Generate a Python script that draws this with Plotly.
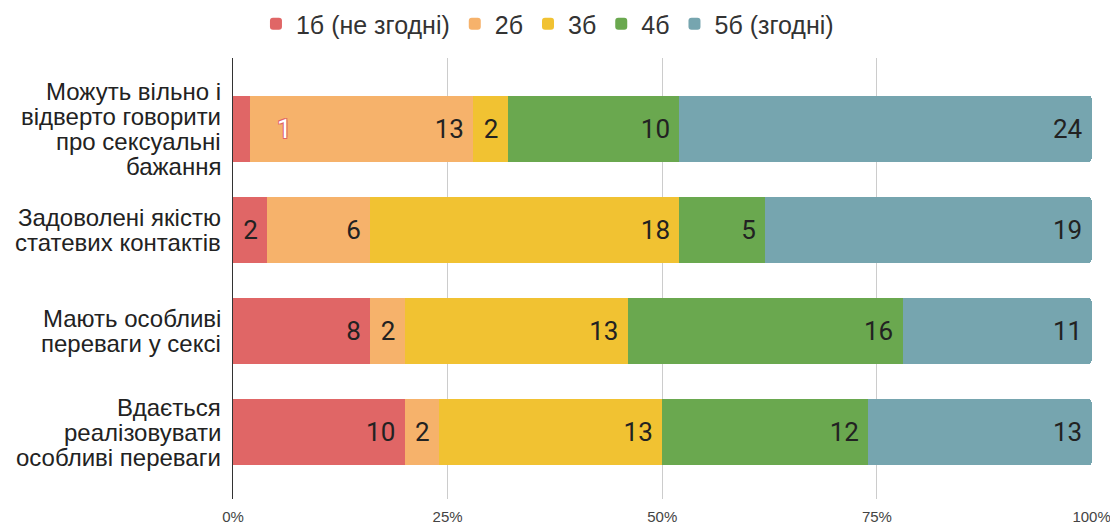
import plotly.graph_objects as go

categories = [
    "Можуть вільно і<br>відверто говорити<br>про сексуальні<br>бажання",
    "Задоволені якістю<br>статевих контактів",
    "Мають особливі<br>переваги у сексі",
    "Вдається<br>реалізовувати<br>особливі переваги",
]
series_names = ["1б (не згодні)", "2б", "3б", "4б", "5б (згодні)"]
s1 = [1, 2, 8, 10]
s2 = [13, 6, 2, 2]
s3 = [2, 18, 13, 13]
s4 = [10, 5, 16, 12]
s5 = [24, 19, 11, 13]
colors = ["#E06666", "#F6B26B", "#F1C232", "#6AA84F", "#76A5AF"]
x_ticks = [0, 25, 50, 75, 100]

series = [s1, s2, s3, s4, s5]
totals = [sum(v) for v in zip(*series)]

PAD = "\u00a0"
ROBOTO = "Roboto, Arial, sans-serif"
ARIAL = "Arial, 'Liberation Sans', sans-serif"
LINE_H = 25  # px between category label lines

# page body has an 8px margin; compensate so the chart lands where intended
W, H = 1118 - 8, 526 - 8

fig = go.Figure()
for name, vals, col in zip(series_names, series, colors):
    texts = []
    for i, v in enumerate(vals):
        pct = v / totals[i] * 100
        texts.append(f"{v}{PAD}" if pct >= 3 else "")
    fig.add_trace(go.Bar(
        y=categories, x=vals, name=name, orientation="h",
        marker=dict(color=col, line=dict(width=0)),
        text=texts, textposition="inside", insidetextanchor="end",
        textangle=0, constraintext="none",
        insidetextfont=dict(family=ROBOTO, size=26, color="#222222"),
        hoverinfo="skip",
    ))

# labels for segments too small to hold their value
for i, v in enumerate(s1):
    pct = v / totals[i] * 100
    if pct < 3:
        fig.add_annotation(
            x=pct, y=categories[i], xref="x", yref="y",
            text=str(v), showarrow=False, xanchor="left", xshift=25,
            font=dict(family=ROBOTO, size=26, color="#ffffff",
                      shadow="-1px -1px 0 #E06666, 1px -1px 0 #E06666, -1px 1px 0 #E06666, 1px 1px 0 #E06666"),
        )

# category labels, one annotation per line for tight line spacing
for cat in categories:
    lines = cat.split("<br>")
    n = len(lines)
    for k, line in enumerate(lines):
        fig.add_annotation(
            x=0, y=cat, xref="paper", yref="y",
            text=line, showarrow=False, xanchor="right", yanchor="middle",
            xshift=-10, yshift=((n - 1) / 2 - k) * LINE_H,
            font=dict(family=ARIAL, size=24, color="#222222"),
        )

fig.update_layout(
    barmode="stack", barnorm="percent", bargap=0.35,
    barcornerradius=3,
    width=W, height=H,
    margin=dict(l=225, r=26, t=50, b=27, autoexpand=False),
    paper_bgcolor="white", plot_bgcolor="white",
    font=dict(family=ARIAL, color="#222222"),
    legend=dict(
        orientation="h", xref="container", yref="paper",
        x=0.486, xanchor="center", y=1.077, yanchor="middle",
        font=dict(family=ARIAL, size=25, color="#333333"),
        traceorder="normal", itemclick=False,
    ),
    showlegend=True,
)
fig.update_xaxes(
    range=[0, 100.05], tickvals=x_ticks, ticktext=[f"{t}%" for t in x_ticks],
    showgrid=True, gridcolor="#cccccc", gridwidth=1,
    zeroline=False, showline=False, automargin=False,
    ticks="outside", ticklen=4, tickcolor="rgba(0,0,0,0)",
    tickfont=dict(family=ARIAL, size=15, color="#444444"),
)
fig.update_yaxes(
    categoryorder="array", categoryarray=categories,
    range=[3.66, -0.70], automargin=False,
    showline=True, linecolor="#333333", linewidth=1,
    showgrid=False, zeroline=False, showticklabels=False,
)

fig.write_html("out.html")
